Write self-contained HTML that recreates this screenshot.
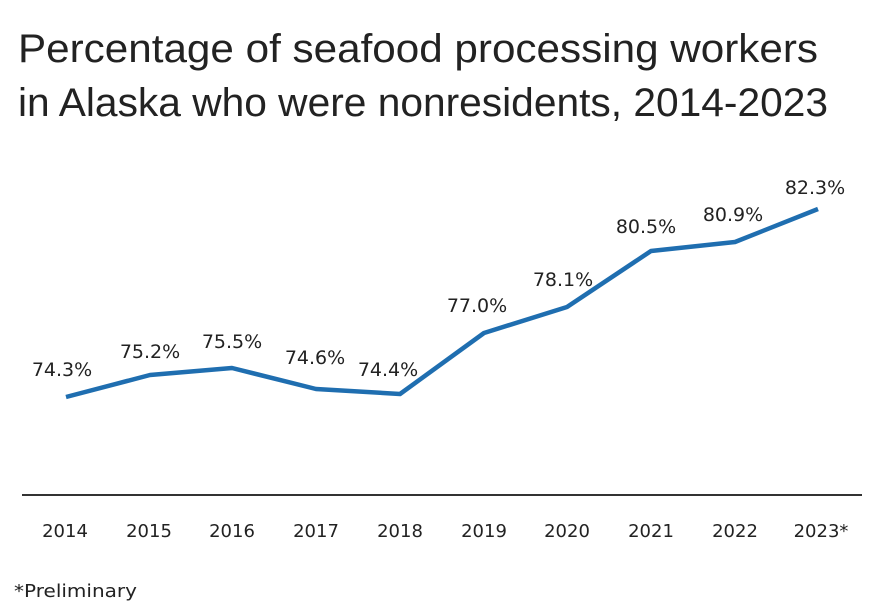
<!DOCTYPE html>
<html><head><style>
body{margin:0;background:#fff;}
</style></head><body>
<svg width="880" height="605" xmlns="http://www.w3.org/2000/svg" style="display:block">
<rect width="880" height="605" fill="#fff"/>
<g font-family="Liberation Sans, sans-serif" fill="#222" font-size="40">
<text x="18" y="62" textLength="800" lengthAdjust="spacingAndGlyphs">Percentage of seafood processing workers</text>
<text x="18" y="116" textLength="810" lengthAdjust="spacingAndGlyphs">in Alaska who were nonresidents, 2014-2023</text>
</g>
<polyline fill="none" stroke="#1f6eb0" stroke-width="4.5" stroke-linejoin="round" points="66,397 150,375 232,368 316,389 400,394 484,333 567,307 651,251 735,242 818,209"/>
<line x1="22" y1="495" x2="862" y2="495" stroke="#333" stroke-width="2"/>
<g font-family="DejaVu Sans, sans-serif" font-size="19" fill="#222" text-anchor="middle">
<text x="62" y="376">74.3%</text>
<text x="150" y="358">75.2%</text>
<text x="232" y="348">75.5%</text>
<text x="315" y="364">74.6%</text>
<text x="388" y="376">74.4%</text>
<text x="477" y="312">77.0%</text>
<text x="563" y="286">78.1%</text>
<text x="646" y="233">80.5%</text>
<text x="733" y="221">80.9%</text>
<text x="815" y="194">82.3%</text>
</g>
<g font-family="DejaVu Sans, sans-serif" font-size="18" fill="#222" text-anchor="middle">
<text x="65" y="537">2014</text>
<text x="149" y="537">2015</text>
<text x="232" y="537">2016</text>
<text x="316" y="537">2017</text>
<text x="400" y="537">2018</text>
<text x="484" y="537">2019</text>
<text x="567" y="537">2020</text>
<text x="651" y="537">2021</text>
<text x="735" y="537">2022</text>
<text x="821" y="537">2023*</text>
</g>
<text x="14" y="597" font-family="DejaVu Sans, sans-serif" font-size="18" fill="#222" textLength="123" lengthAdjust="spacingAndGlyphs">*Preliminary</text>
</svg>
</body></html>
